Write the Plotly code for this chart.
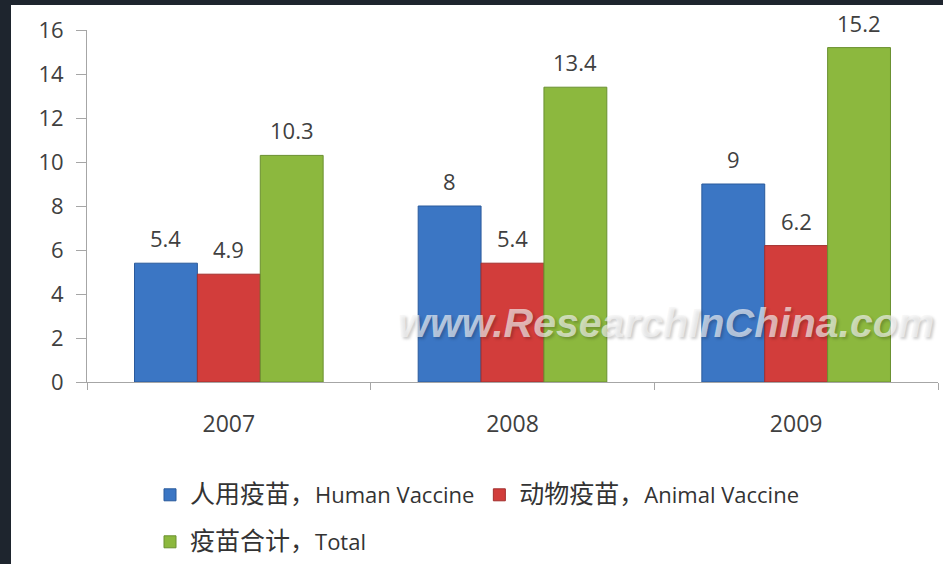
import plotly.graph_objects as go

years = ["2007", "2008", "2009"]
human = [5.4, 8, 9]
animal = [4.9, 5.4, 6.2]
total = [10.3, 13.4, 15.2]
series_cn = ["人用疫苗，", "动物疫苗，", "疫苗合计，"]
series_en = ["Human Vaccine", "Animal Vaccine", "Total"]
y_ticks = [0, 2, 4, 6, 8, 10, 12, 14, 16]

W, H = 943, 564
ML, MR, MT, MB = 87, 5, 30, 182
PW, PH = W - ML - MR, H - MT - MB
BARGAP = 0.335

fills = ["#3b76c4", "#d23d3b", "#8cb83e"]
edges = ["#2a5a9c", "#a22f2e", "#6a9030"]
font_main = "Open Sans, Noto Sans CJK SC, sans-serif"

fig = go.Figure()
series = [human, animal, total]
for i, vals in enumerate(series):
    name = f'<span style="font-size:25px">{series_cn[i]}</span>{series_en[i]}'
    fig.add_trace(go.Bar(
        x=years, y=vals, name=name,
        marker=dict(color=fills[i], line=dict(color=edges[i], width=1)),
        legend="legend" if i < 2 else "legend2",
        hoverinfo="skip",
    ))

# data labels (category axis positions given by category index)
bar_px = PW / len(years) * (1 - BARGAP) / 3
for i, vals in enumerate(series):
    for j, v in enumerate(vals):
        fig.add_annotation(
            x=j, y=v, xref="x", yref="y", text=f"{v:g}", showarrow=False,
            xshift=(i - 1) * bar_px, yshift=25, yanchor="middle", xanchor="center",
            font=dict(family=font_main, size=22, color="#404040"),
        )

# watermark
fig.add_annotation(
    x=(666 - ML) / PW, y=(382 - 323) / PH, xref="paper", yref="paper",
    xanchor="center", yanchor="middle",
    text="www.ResearchInChina.com", showarrow=False,
    font=dict(family="Liberation Sans, Arial, sans-serif", size=41,
              color="rgba(244,244,244,0.68)", weight="bold", style="italic",
              shadow="2px 2px 3px rgba(0,0,0,0.3)"),
)

# white card on dark background
fig.add_shape(
    type="rect", xref="paper", yref="paper", layer="below",
    x0=(11 - ML) / PW, x1=(W + 10 - ML) / PW,
    y0=(MT + PH - H - 10) / PH, y1=(MT + PH - 5) / PH,
    fillcolor="white", line=dict(width=0),
)

fig.update_layout(
    width=W, height=H,
    margin=dict(l=ML, r=MR, t=MT, b=MB, autoexpand=False),
    paper_bgcolor="#1e252e",
    plot_bgcolor="white",
    barmode="group", bargap=BARGAP, bargroupgap=0,
    font=dict(family=font_main, color="#404040"),
    legend=dict(
        orientation="h", x=(150 - ML) / PW, xanchor="left",
        y=(382 - 495) / PH, yanchor="middle",
        font=dict(size=22, color="#333333"), bgcolor="rgba(0,0,0,0)",
    ),
    legend2=dict(
        orientation="h", x=(150 - ML) / PW, xanchor="left",
        y=(382 - 542) / PH, yanchor="middle",
        font=dict(size=22, color="#333333"), bgcolor="rgba(0,0,0,0)",
    ),
    xaxis=dict(
        type="category", range=[-0.5, len(years) - 0.5],
        showline=True, linecolor="#a6a6a6", linewidth=1,
        ticks="outside", tickson="boundaries", ticklen=7, tickcolor="#a6a6a6",
        showgrid=False, tickfont=dict(size=23, color="#404040"),
        ticklabelstandoff=21, tickangle=0,
    ),
    yaxis=dict(
        range=[0, 16], tickvals=y_ticks, showline=True, linecolor="#a6a6a6",
        linewidth=1, ticks="outside", ticklen=10, tickcolor="#a6a6a6",
        showgrid=False, zeroline=False, tickfont=dict(size=22, color="#404040"),
        ticklabelstandoff=8,
    ),
)

fig.write_html("out.html", config={"displayModeBar": False},
               post_script="document.body.style.margin='0';")
